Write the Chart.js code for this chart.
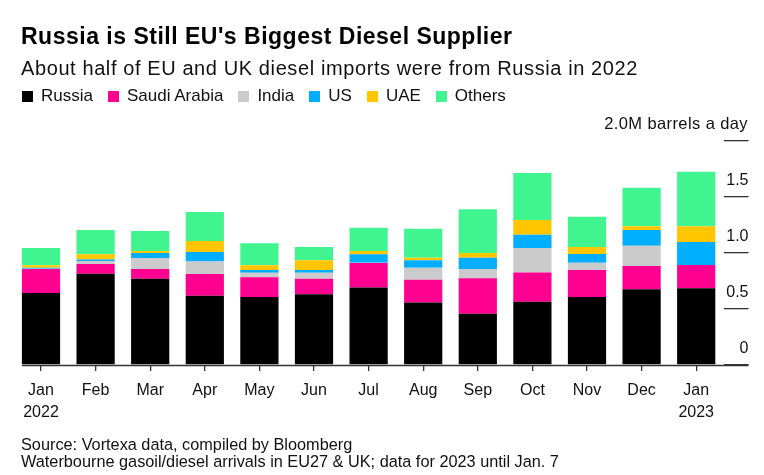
<!DOCTYPE html>
<html>
<head>
<meta charset="utf-8">
<script src="https://cdn.jsdelivr.net/npm/chart.js@4"></script>
<style>
  body { margin: 0; background: #fff; font-family: "Liberation Sans", Arial, sans-serif; color: #111; }
  #wrap { position: relative; width: 764px; height: 475px; overflow: hidden; }
  canvas { position: absolute; left: 0; top: 0; }
  .txt { position: absolute; white-space: nowrap; }
  #title { left: 21px; top: 22.5px; font-size: 23px; letter-spacing: 0.5px; line-height: 26px; font-weight: bold; color: #000; }
  #subtitle { left: 21px; top: 56.5px; font-size: 20px; letter-spacing: 0.6px; line-height: 22px; }
  #legend { left: 22px; top: 87.3px; font-size: 17px; line-height: 18px; display: flex; }
  #legend span.item { display: flex; align-items: center; margin-right: 15px; }
  #legend i { display: inline-block; width: 11px; height: 11px; margin-right: 8px; }
  #unit { right: 16px; top: 113.5px; font-size: 16.5px; letter-spacing: 0.4px; line-height: 18px; }
  #source { left: 21px; top: 435.5px; font-size: 16.3px; line-height: 17.5px; }
</style>
</head>
<body>
<div id="wrap">
  <canvas id="chart" width="764" height="475"></canvas>
  <div class="txt" id="title">Russia is Still EU's Biggest Diesel Supplier</div>
  <div class="txt" id="subtitle">About half of EU and UK diesel imports were from Russia in 2022</div>
  <div class="txt" id="legend"></div>
  <div class="txt" id="unit">2.0M barrels a day</div>
  <div class="txt" id="source">Source: Vortexa data, compiled by Bloomberg<br>Waterbourne gasoil/diesel arrivals in EU27 &amp; UK; data for 2023 until Jan. 7</div>
</div>
<script>
  // million barrels a day
  const categories = [['Jan', '2022'], 'Feb', 'Mar', 'Apr', 'May', 'Jun', 'Jul', 'Aug', 'Sep', 'Oct', 'Nov', 'Dec', ['Jan', '2023']];
  const russia      = [0.643, 0.815, 0.771, 0.619, 0.607, 0.631, 0.693, 0.557, 0.458, 0.565, 0.607, 0.676, 0.685];
  const saudiArabia = [0.214, 0.087, 0.086, 0.193, 0.176, 0.140, 0.218, 0.205, 0.316, 0.262, 0.241, 0.208, 0.208];
  const india       = [0.003, 0.027, 0.098, 0.111, 0.041, 0.053, 0.003, 0.107, 0.083, 0.218, 0.066, 0.181, 0.000];
  const us          = [0.009, 0.014, 0.045, 0.086, 0.024, 0.024, 0.074, 0.066, 0.101, 0.119, 0.077, 0.140, 0.205];
  const uae         = [0.021, 0.045, 0.018, 0.098, 0.042, 0.087, 0.030, 0.023, 0.042, 0.131, 0.063, 0.033, 0.140];
  const others      = [0.155, 0.217, 0.178, 0.259, 0.196, 0.119, 0.208, 0.259, 0.390, 0.419, 0.270, 0.345, 0.488];
  const yTicks = [0, 0.5, 1.0, 1.5, 2.0];

  const series = [
    { label: 'Russia', data: russia, color: '#000000' },
    { label: 'Saudi Arabia', data: saudiArabia, color: '#ff0090' },
    { label: 'India', data: india, color: '#cbcbcb' },
    { label: 'US', data: us, color: '#00aeff' },
    { label: 'UAE', data: uae, color: '#ffc600' },
    { label: 'Others', data: others, color: '#40f590' }
  ];

  const legendEl = document.getElementById('legend');
  series.forEach(s => {
    legendEl.innerHTML += '<span class="item"><i style="background:' + s.color + '"></i>' + s.label + '</span>';
  });

  // x baseline from the first bar's left edge to the end of the y ticks
  const baseline = {
    id: 'baseline',
    afterDraw(chart) {
      const { ctx, scales } = chart;
      const bar = chart.getDatasetMeta(0).data[0];
      const y = Math.round(scales.y.getPixelForValue(0)) + 0.5;
      ctx.save();
      ctx.strokeStyle = '#333';
      ctx.lineWidth = 1.3;
      ctx.beginPath();
      ctx.moveTo(bar.x - bar.width / 2, y);
      ctx.lineTo(scales.y.right, y);
      ctx.stroke();
      ctx.restore();
    }
  };

  new Chart(document.getElementById('chart'), {
    type: 'bar',
    data: {
      labels: categories,
      datasets: series.map(s => ({
        label: s.label,
        data: s.data,
        backgroundColor: s.color,
        borderWidth: 0,
        barPercentage: 0.7,
        categoryPercentage: 1
      }))
    },
    options: {
      responsive: false,
      animation: false,
      layout: { padding: { left: 13.7, right: 15.5, top: 141, bottom: 50 } },
      plugins: { legend: { display: false }, tooltip: { enabled: false } },
      scales: {
        x: {
          stacked: true,
          offset: true,
          grid: { offset: false, drawOnChartArea: false, drawTicks: true, tickLength: 6, color: '#333', lineWidth: 1.3 },
          border: { display: false },
          ticks: { font: { family: 'Liberation Sans', size: 16, lineHeight: 1.35 }, color: '#111', padding: 9, maxRotation: 0, autoSkip: false },
          afterFit: s => { s.height = 60; }
        },
        y: {
          stacked: true,
          position: 'right',
          min: 0,
          max: 2,
          afterBuildTicks: s => { s.ticks = yTicks.map(v => ({ value: v })); },
          grid: { drawOnChartArea: false, drawTicks: true, tickLength: 25, color: '#333', lineWidth: 1.3 },
          border: { display: false },
          ticks: {
            font: { family: 'Liberation Sans', size: 16 },
            color: '#111',
            crossAlign: 'far',
            padding: -22,
            labelOffset: -16,
            callback: v => v === 2 ? '' : (v === 0 ? '0' : v.toFixed(1))
          },
          afterFit: s => { s.width = 25; }
        }
      }
    },
    plugins: [baseline]
  });
</script>
</body>
</html>
